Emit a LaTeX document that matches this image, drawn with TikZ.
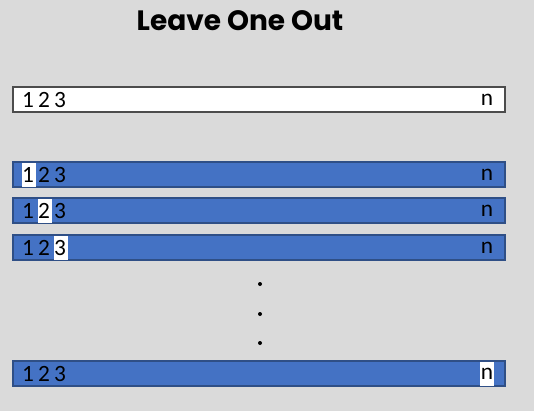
\documentclass[tikz,border=0pt]{standalone}
\usepackage{fontspec}
\setmainfont{Carlito}
\newfontfamily\titlefont{Poppins}
\usetikzlibrary{positioning}
\definecolor{bgray}{HTML}{DADADA}
\definecolor{foldblue}{HTML}{4472C4}
\definecolor{folddark}{HTML}{2F4F86}

\begin{document}
\begin{tikzpicture}[
                x=0.75pt, y=-0.75pt,
                font=\fontsize{17.5}{20}\selectfont,
                bar/.style={
                        draw=folddark, line width=0.8pt,
                        minimum width=369pt, minimum height=18.75pt,
                        inner sep=0pt, fill=foldblue
                    },
                fullbar/.style={bar, draw=black!70, fill=white},
                hole/.style={
                        fill=white, minimum width=10.5pt,
                        minimum height=18pt, inner sep=0pt
                    },
                idx/.style={inner sep=0pt, text depth=0pt},
                dot/.style={circle, fill=black, inner sep=0pt, minimum size=3pt},
                ]

                \fill[bgray] (0,0) rectangle (534,411);
                \useasboundingbox (0,0) rectangle (534,411);

                \node[font=\titlefont\bfseries\fontsize{21}{24}\selectfont] (title) at (240,21) {Leave One Out};

                % all data
                \node[fullbar] (all) at (259,99.5) {};
                \node[idx] (all1) at (28,99.5) {1};
                \node[idx] (all2) at (44,99.5) {2};
                \node[idx] (all3) at (60,99.5) {3};
                \node[idx] (alln) at (487,99.5) {n};

                % one held out per fold
                \foreach \k/\y/\hx in {1/174.5/28, 2/210.5/44, 3/247.5/60}{
                        \node[bar] (fold\k) at (259,\y) {};
                        \node[hole] (hole\k) at (\hx+1,\y) {};
                        \node[idx] (f\k a) at (28,\y) {1};
                        \node[idx] (f\k b) at (44,\y) {2};
                        \node[idx] (f\k c) at (60,\y) {3};
                        \node[idx] (f\k n) at (487,\y) {n};
                    }

                \node[dot] (dot1) at (260,284) {};
                \node[dot] (dot2) at (260,314) {};
                \node[dot] (dot3) at (260,343) {};

                \node[bar] (foldn) at (259,373.5) {};
                \node[hole] (holen) at (487,373.5) {};
                \node[idx] (fna) at (28,373.5) {1};
                \node[idx] (fnb) at (44,373.5) {2};
                \node[idx] (fnc) at (60,373.5) {3};
                \node[idx] (fnn) at (487,373.5) {n};
            \end{tikzpicture}
\end{document}
